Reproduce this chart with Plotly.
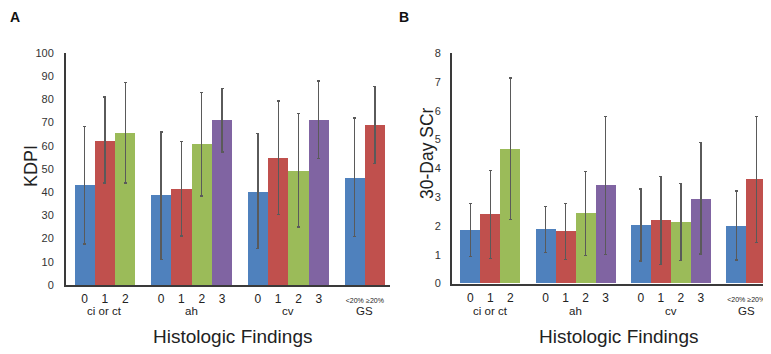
import plotly.graph_objects as go

# ---- data ----
groups = ["ci or ct", "ah", "cv", "GS"]
levels = [["0", "1", "2"], ["0", "1", "2", "3"], ["0", "1", "2", "3"], ["<20%", "≥20%"]]

kdpi_mean = [43.0, 62.1, 65.7, 38.6, 41.3, 60.6, 71.1, 40.3, 54.8, 49.2, 71.1, 46.2, 68.8]
kdpi_low = [17.6, 43.9, 44.0, 11.1, 21.2, 38.4, 57.4, 15.7, 30.5, 25.0, 54.5, 20.9, 52.4]
kdpi_high = [68.3, 81.0, 87.3, 65.9, 61.9, 82.9, 84.7, 65.2, 79.3, 74.0, 88.0, 71.9, 85.5]

scr_mean = [1.85, 2.40, 4.68, 1.88, 1.80, 2.43, 3.40, 2.02, 2.18, 2.11, 2.94, 1.98, 3.62]
scr_low = [0.93, 0.87, 2.23, 1.08, 0.83, 0.97, 1.00, 0.78, 0.66, 0.79, 1.02, 0.81, 1.43]
scr_high = [2.78, 3.93, 7.14, 2.67, 2.78, 3.90, 5.81, 3.28, 3.72, 3.47, 4.89, 3.21, 5.80]

level_colors = ["#4F81BD", "#C0504D", "#9BBB59", "#8064A2"]

# ---- positions (derived from group structure) ----
GAP = 0.77
xs, colors, ticktext, group_centers = [], [], [], []
pos = 0.0
for g, lv in zip(groups, levels):
    start = pos
    for i, lab in enumerate(lv):
        xs.append(pos + i + 0.5)
        colors.append(level_colors[i])
        if lab.startswith("<") or lab.startswith("≥"):
            ticktext.append('<span style="font-size:7px">%s</span>' % lab.replace("<", "&lt;"))
        else:
            ticktext.append(lab)
    group_centers.append(start + len(lv) / 2)
    pos += len(lv) + GAP

# page has an 8px body margin; figure sized to fit the 771x354 window
OFF = 8
W, H = 771 - OFF, 354 - OFF
def px(x):
    return (x - OFF) / W
def py(y):
    return 1 - (y - OFF) / H

FONT = "Liberation Sans, Arial, sans-serif"
AX = "#3a3a3a"

fig = go.Figure()

def add_panel(mean, low, high, xa, ya):
    fig.add_trace(go.Bar(
        x=xs, y=mean, width=1.0, marker=dict(color=colors, line=dict(width=0)),
        error_y=dict(type="data", symmetric=False,
                     array=[h - m for h, m in zip(high, mean)],
                     arrayminus=[m - l for m, l in zip(mean, low)],
                     color="#5a5a5a", thickness=1.4, width=1.5),
        xaxis=xa, yaxis=ya, showlegend=False))

add_panel(kdpi_mean, kdpi_low, kdpi_high, "x", "y")
add_panel(scr_mean, scr_low, scr_high, "x2", "y2")

xcommon = dict(range=[-0.42, 15.55], showgrid=False, zeroline=False, showline=True,
               linecolor=AX, linewidth=2, ticks="", tickmode="array", tickvals=xs,
               ticktext=ticktext, tickfont=dict(size=12, color="#222", family=FONT),
               ticklabelstandoff=2, tickangle=0, automargin=False)
ycommon = dict(showgrid=False, zeroline=False, showline=True, linecolor=AX, linewidth=2,
               ticks="", tickfont=dict(size=11, color="#333", family=FONT),
               automargin=False)

fig.update_layout(
    width=W, height=H, margin=dict(l=0, r=0, t=0, b=0, autoexpand=False),
    paper_bgcolor="white", plot_bgcolor="white", bargap=0,
    font=dict(family=FONT),
    xaxis=dict(domain=[px(66), px(390)], anchor="y", **xcommon),
    yaxis=dict(domain=[py(285), py(53)], anchor="x", range=[0, 100], dtick=10,
               ticklabelstandoff=8, **ycommon),
    xaxis2=dict(domain=[px(452), 1.0], anchor="y2", **xcommon),
    yaxis2=dict(domain=[py(283.5), py(53.3)], anchor="x2", range=[0, 8], dtick=1,
                ticklabelstandoff=7, **ycommon),
)

ann = []
for xa in ["x", "x2"]:
    for g, c in zip(groups, group_centers):
        ann.append(dict(x=c, xref=xa, y=py(311), yref="paper", text=g, showarrow=False,
                        xanchor="center", yanchor="middle",
                        font=dict(size=11.5, color="#222", family=FONT)))

def label(x, y, text, size, angle=0, color="#222"):
    ann.append(dict(x=px(x), y=py(y), xref="paper", yref="paper", text=text, textangle=angle,
                    showarrow=False, xanchor="center", yanchor="middle",
                    font=dict(size=size, color=color, family=FONT)))

label(232, 336, "Histologic Findings", 19)
label(618, 336, "Histologic Findings", 19)
label(31, 166, "KDPI", 18, -90)
label(427, 153, "30-Day SCr", 17.5, -90)
for x, t in [(15, "<b>A</b>"), (404, "<b>B</b>")]:
    ann.append(dict(x=px(x), y=1.0, xref="paper", yref="paper", text=t, showarrow=False,
                    xanchor="center", yanchor="top", borderpad=0,
                    font=dict(size=14, color="#111", family=FONT)))
fig.update_layout(annotations=ann)

fig.write_html("out.html")
